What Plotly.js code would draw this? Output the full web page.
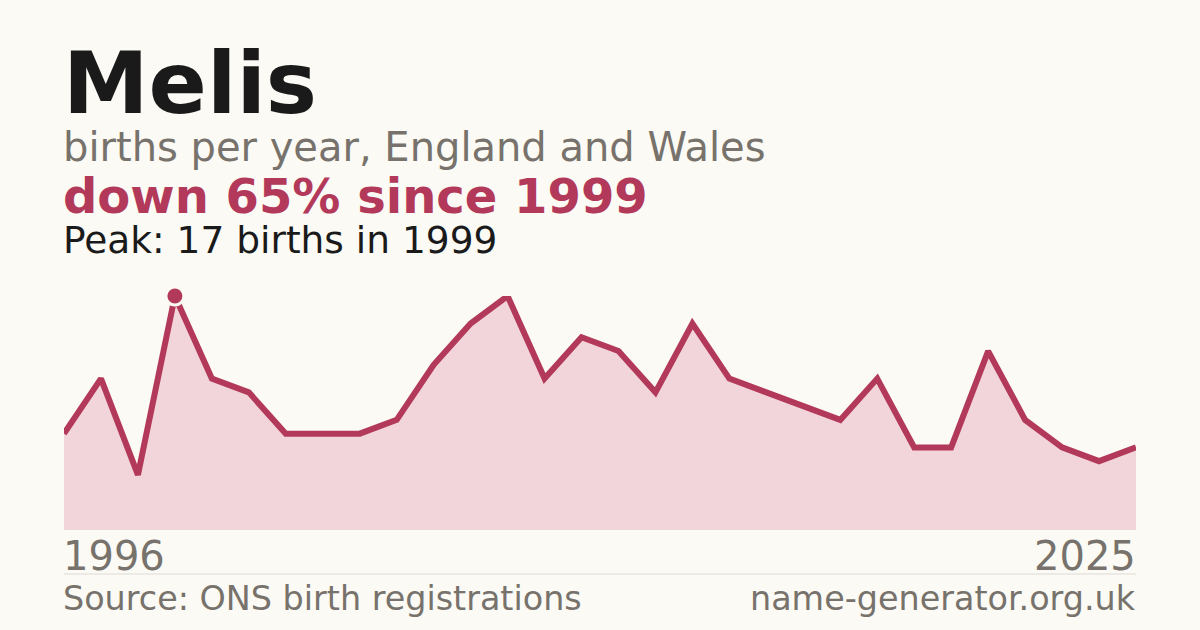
<!DOCTYPE html>
<html>
<head>
<meta charset="utf-8">
<script src="https://cdn.plot.ly/plotly-3.0.1.min.js"></script>
<style>
  body { margin: 0; background: #fbfaf5; }
  #chart { width: 1200px; height: 630px; }
</style>
</head>
<body>
<div id="chart"></div>
<script>
// births per year for the name
var years = [1996, 1997, 1998, 1999, 2000, 2001, 2002, 2003, 2004, 2005,
             2006, 2007, 2008, 2009, 2010, 2011, 2012, 2013, 2014, 2015,
             2016, 2017, 2018, 2019, 2020, 2021, 2022, 2023, 2024, 2025];
var births = [7, 11, 4, 17, 11, 10, 7, 7, 7, 8,
              12, 15, 17, 11, 14, 13, 10, 15, 11, 10,
              9, 8, 11, 6, 6, 13, 8, 6, 5, 6];
var peakYear = [1999];
var peakBirths = [17];
var endLabels = ['1996', '2025'];

var red = '#b3395a';
var grey = '#77726b';
var font = 'DejaVu Sans, sans-serif';

var area = {
  x: years,
  y: births,
  type: 'scatter',
  mode: 'lines',
  fill: 'tozeroy',
  fillcolor: '#f2d5da',
  line: { color: red, width: 6 },
  hoverinfo: 'skip'
};

var peak = {
  x: peakYear,
  y: peakBirths,
  type: 'scatter',
  mode: 'markers',
  marker: { color: red, size: 18, line: { color: '#fbfaf5', width: 3 } },
  cliponaxis: false,
  hoverinfo: 'skip'
};

function note(text, x, y, size, color, bold, anchor) {
  var right = anchor === 'right';
  return {
    text: bold ? '<b>' + text + '</b>' : text,
    xref: 'paper', yref: 'paper',
    x: x, y: y,
    xanchor: anchor || 'left', yanchor: 'middle',
    xshift: right ? 2 : -3,
    showarrow: false,
    font: { family: font, size: size, color: color }
  };
}

var layout = {
  width: 1200,
  height: 630,
  paper_bgcolor: '#fbfaf5',
  plot_bgcolor: '#fbfaf5',
  margin: { l: 64, r: 64, t: 296, b: 100 },
  showlegend: false,
  xaxis: { range: [years[0], years[years.length - 1]], visible: false, fixedrange: true },
  yaxis: { range: [0, 17], visible: false, fixedrange: true },
  shapes: [{
    type: 'line', xref: 'paper', yref: 'paper',
    x0: 0, x1: 1, y0: -0.188, y1: -0.188,
    line: { color: '#dedbd4', width: 1 }
  }],
  annotations: [
    note('Melis', 0, 1.911, 86, '#1a1a1a', true),
    note('births per year, England and Wales', 0, 1.638, 40, grey, false),
    note('down 65% since 1999', 0, 1.427, 48, red, true),
    note('Peak: 17 births in 1999', 0, 1.238, 37.5, '#1a1a1a', false),
    note(endLabels[0], 0, -0.112, 40, grey, false),
    note(endLabels[1], 1, -0.112, 40, grey, false, 'right'),
    note('Source: ONS birth registrations', 0, -0.291, 33.4, grey, false),
    note('name-generator.org.uk', 1, -0.291, 33.4, grey, false, 'right')
  ]
};

Plotly.newPlot('chart', [area, peak], layout, { displayModeBar: false, staticPlot: true });
</script>
</body>
</html>
